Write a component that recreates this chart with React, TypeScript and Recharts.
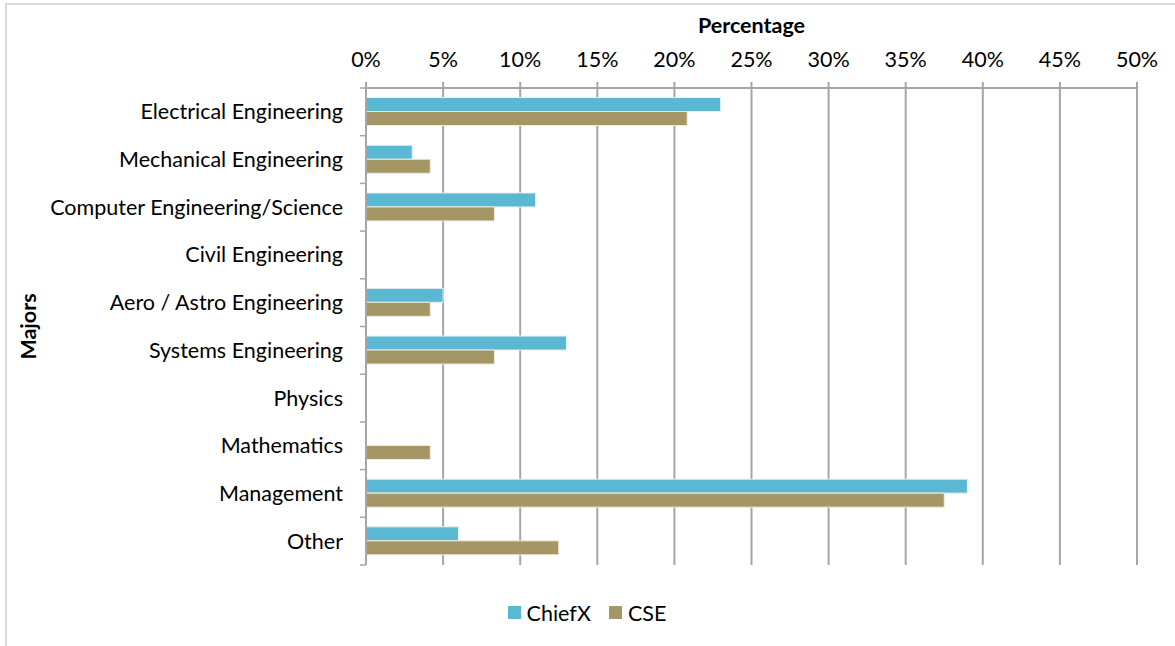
import React from 'react';
import { BarChart, Bar, XAxis, YAxis, CartesianGrid, Legend, Label } from 'recharts';

const categories = [
  'Electrical Engineering',
  'Mechanical Engineering',
  'Computer Engineering/Science',
  'Civil Engineering',
  'Aero / Astro Engineering',
  'Systems Engineering',
  'Physics',
  'Mathematics',
  'Management',
  'Other',
];
const chiefX = [23, 3, 11, 0, 5, 13, 0, 0, 39, 6];
const cse = [20.83, 4.17, 8.33, 0, 4.17, 8.33, 0, 4.17, 37.5, 12.5];
const xTicks = [0, 5, 10, 15, 20, 25, 30, 35, 40, 45, 50];
const seriesNames = ['ChiefX', 'CSE'];

const data = categories.map((name, i) => ({ name, ChiefX: chiefX[i], CSE: cse[i] }));

const W = 1175;
const H = 646;
const TOP = 88;
const AXIS_X = 366;
const BOTTOM_MARGIN = 81;
const BAND = (H - TOP - BOTTOM_MARGIN) / categories.length;
const FONT = 'Lato, "Open Sans", sans-serif';
const FS = 21.5;
const GRID = '#A6A6A6';
const BLUE = '#5BB8D2';
const TAN = '#A59665';
const COLORS: Record<string, string> = { ChiefX: BLUE, CSE: TAN };

const YTick = (props: any) => {
  const { y, payload, index } = props;
  const last = index === categories.length - 1;
  return (
    <g>
      <line x1={AXIS_X - 6} x2={AXIS_X} y1={y - BAND / 2} y2={y - BAND / 2} stroke={GRID} strokeWidth={1.5} />
      {last && <line x1={AXIS_X - 6} x2={AXIS_X} y1={y + BAND / 2} y2={y + BAND / 2} stroke={GRID} strokeWidth={1.5} />}
      <text x={AXIS_X - 23} y={y} dy="0.35em" textAnchor="end" fill="#000" fontSize={FS} fontFamily={FONT}>
        {payload.value}
      </text>
    </g>
  );
};

const LegendContent = () => (
  <div style={{ height: BOTTOM_MARGIN, boxSizing: 'border-box', paddingTop: 14, paddingLeft: 37, display: 'flex', justifyContent: 'center', fontFamily: FONT, fontSize: FS, color: '#000' }}>
    {seriesNames.map((n, i) => (
      <div key={n} style={{ display: 'flex', alignItems: 'center', marginLeft: i === 0 ? 0 : 18 }}>
        <span style={{ display: 'inline-block', width: 13, height: 13, background: COLORS[n], marginRight: 6 }} />
        <span>{n}</span>
      </div>
    ))}
  </div>
);

export default function App() {
  return (
    <div style={{ position: 'absolute', left: 0, top: 0, width: W, height: H, overflow: 'hidden', background: '#fff' }}>
      <div style={{ position: 'absolute', left: 5, top: 3, width: W + 20, height: H + 20, borderLeft: '2px solid #D9D9D9', borderTop: '2px solid #D9D9D9' }} />
      <div style={{ position: 'absolute', left: 0, top: 0 }}>
        <BarChart
          width={W}
          height={H}
          data={data}
          layout="vertical"
          margin={{ top: 0, right: 38, bottom: 0, left: 0 }}
          barCategoryGap="20%"
          barGap={0}
        >
          <CartesianGrid horizontal={false} vertical={true} stroke={GRID} strokeWidth={2} />
          <XAxis
            type="number"
            orientation="top"
            height={TOP}
            domain={[0, 50]}
            ticks={xTicks}
            tickFormatter={(v: number) => `${v}%`}
            axisLine={{ stroke: GRID, strokeWidth: 2 }}
            tickLine={{ stroke: GRID, strokeWidth: 2 }}
            tickSize={6}
            tickMargin={15}
            tick={{ fill: '#000', fontSize: FS, fontFamily: FONT }}
            interval={0}
          >
            <Label value="Percentage" position="insideTop" offset={18} style={{ fontWeight: 'bold', fontSize: FS, fontFamily: FONT, fill: '#000' }} />
          </XAxis>
          <YAxis
            type="category"
            dataKey="name"
            width={AXIS_X}
            axisLine={{ stroke: GRID, strokeWidth: 2 }}
            tickLine={false}
            tick={<YTick />}
            interval={0}
          >
            <Label
              content={(p: any) => {
                const vb = p.viewBox || {};
                const cy = (vb.y || 0) + (vb.height || 0) / 2;
                return (
                  <text x={28} y={cy} transform={`rotate(-90, 28, ${cy})`} textAnchor="middle" dy="0.35em" fontWeight="bold" fontSize={FS} fontFamily={FONT} fill="#000">
                    Majors
                  </text>
                );
              }}
            />
          </YAxis>
          <Legend verticalAlign="bottom" content={<LegendContent />} />
          <Bar dataKey="ChiefX" fill={BLUE} stroke="#E4F3F7" strokeWidth={1} isAnimationActive={false} />
          <Bar dataKey="CSE" fill={TAN} stroke="#EFEBE0" strokeWidth={1} isAnimationActive={false} />
        </BarChart>
      </div>
    </div>
  );
}
